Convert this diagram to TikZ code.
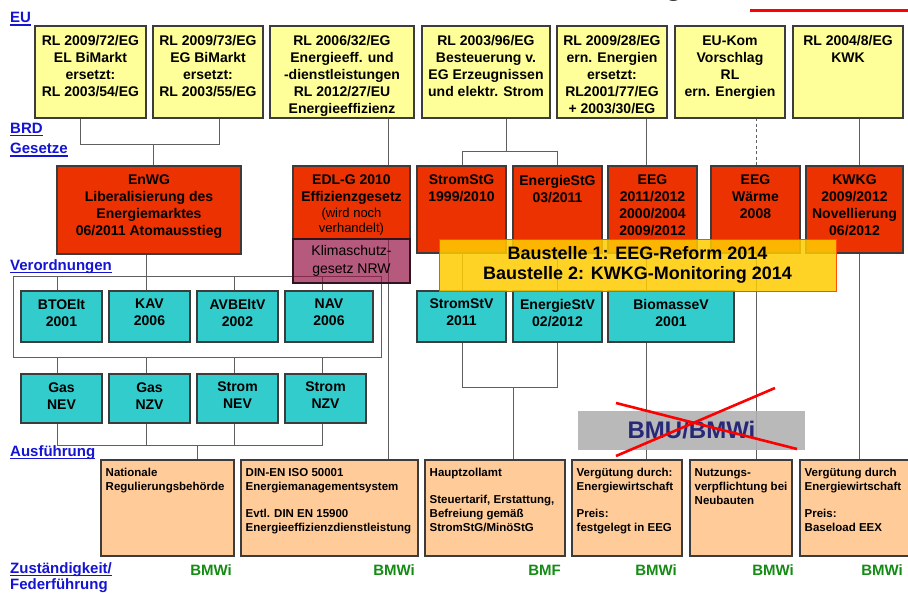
\documentclass[tikz,border=0pt]{standalone}
\usepackage{fontspec}
\setmainfont{Liberation Sans}
\usetikzlibrary{calc}
\pgfdeclarelayer{bglayer}
\pgfdeclarelayer{connlayer}
\pgfsetlayers{bglayer,connlayer,main}
\definecolor{euY}{HTML}{FFFF99}
\definecolor{rd}{RGB}{236,50,0}
\definecolor{tl}{HTML}{33CCCC}
\definecolor{pc}{HTML}{FFCC99}
\definecolor{bdr}{RGB}{60,60,60}
\definecolor{cn}{RGB}{95,95,95}
\definecolor{lb}{RGB}{20,20,210}
\definecolor{gn}{RGB}{20,140,20}
\definecolor{nv}{RGB}{40,40,120}
\definecolor{gy}{RGB}{176,176,176}
\definecolor{km}{RGB}{150,20,70}
\definecolor{kbdr}{RGB}{45,20,30}
\definecolor{bs}{RGB}{255,204,0}
\definecolor{bsb}{RGB}{255,80,0}
\tikzset{
  bx/.style={draw=bdr, line width=1.1pt, inner sep=0pt, outer sep=0pt},
  eubox/.style={bx, fill=euY},
  rdbox/.style={bx, fill=rd},
  tlbox/.style={bx, fill=tl},
  pcbox/.style={bx, fill=pc},
  btxt/.style={font=\bfseries\fontsize{14}{17}\selectfont, align=center, inner sep=0pt, anchor=north},
  atxt/.style={font=\bfseries\fontsize{11.5}{14}\selectfont, align=left, inner sep=0pt, anchor=north west},
  conn/.style={draw=cn, line width=1pt},
  lbl/.style={font=\bfseries\fontsize{15}{18}\selectfont, text=lb, inner sep=0pt, anchor=base west},
  grn/.style={font=\bfseries\fontsize{15}{18}\selectfont, text=gn, inner sep=0pt, anchor=base east},
}
\newcommand\mkbox[8]{%
  \node[#2, minimum width={#5-#3}, minimum height={#6-#4}, anchor=north west] (#1) at (#3,#4) {};
  \node[btxt] (#1-t) at ([yshift=-#7pt]#1.north) {#8};}
\newcommand\mkabox[4]{%
  \node[pcbox, minimum width={#3-#2}, minimum height=96, anchor=north west] (#1) at (#2,460) {};
  \node[atxt] (#1-t) at ([xshift=4.5pt,yshift=-8pt]#1.north west) {#4};}
\newcommand\ulabel[3]{%
  \node[lbl] (#1) at (#2) {#3};
  \draw[draw=lb, line width=1.3pt] ([yshift=-2.5pt]#1.base west) -- ([yshift=-2.5pt]#1.base east);}
\begin{document}
\begin{tikzpicture}[x=1pt,y=-1pt]
\useasboundingbox (0,0) rectangle (908,592);
\clip (0,0) rectangle (908,592);
\begin{pgfonlayer}{bglayer}
\fill[white] (0,0) rectangle (908,592);
\end{pgfonlayer}

% title fragment and red line
\node[font=\bfseries\fontsize{32}{36}\selectfont, inner sep=0pt, anchor=base west] (ttl) at (664,-6) {g};
\coordinate (r1) at (750,10);
\coordinate (r2) at (910,10);
\draw[red, line width=3pt] (r1) -- (r2);

% side labels
\ulabel{lEU}{10,22.5}{EU}
\ulabel{lBRD}{10,133}{BRD}
\ulabel{lGes}{10,153.5}{Gesetze}
\ulabel{lVer}{10,270}{Verordnungen}
\ulabel{lAus}{10,456}{Ausführung}
\ulabel{lZus}{10,573}{Zuständigkeit/}
\node[lbl] (lFed) at (10,589.5) {Federführung};

% EU row
\mkbox{eu1}{eubox}{35}{26}{146}{118}{9.5}{RL 2009/72/EG\\EL BiMarkt\\ersetzt:\\RL 2003/54/EG}
\mkbox{eu2}{eubox}{153}{26}{263}{118}{9.5}{RL 2009/73/EG\\EG BiMarkt\\ersetzt:\\RL 2003/55/EG}
\mkbox{eu3}{eubox}{270}{26}{414}{118}{9.5}{RL 2006/32/EG\\Energieeff. und\\-dienstleistungen\\RL 2012/27/EU\\Energieeffizienz}
\mkbox{eu4}{eubox}{422}{26}{550}{118}{9.5}{RL 2003/96/EG\\Besteuerung v.\\EG Erzeugnissen\\und elektr. Strom}
\mkbox{eu5}{eubox}{557}{26}{667}{118}{9.5}{RL 2009/28/EG\\ern. Energien\\ersetzt:\\RL2001/77/EG\\+ 2003/30/EG}
\mkbox{eu6}{eubox}{675}{26}{785}{118}{9.5}{EU-Kom\\Vorschlag\\RL\\ern. Energien}
\mkbox{eu7}{eubox}{793}{26}{903}{118}{9.5}{RL 2004/8/EG\\KWK}

% BRD row
\mkbox{enwg}{rdbox}{57}{166}{241}{254}{9}{EnWG\\Liberalisierung des\\Energiemarktes\\06/2011 Atomausstieg}
\mkbox{edlg}{rdbox}{293}{166}{410}{239}{9}{EDL-G 2010\\Effizienzgesetz}
\node[font=\fontsize{13}{15}\selectfont, align=center, inner sep=0pt, anchor=north] (edlg-s) at ([yshift=-41.5pt]edlg.north) {(wird noch\\verhandelt)};
\mkbox{stromstg}{rdbox}{417}{166}{506}{253}{9}{StromStG\\1999/2010}
\mkbox{energiestg}{rdbox}{513}{166}{602}{253}{9}{EnergieStG\\03/2011}
\mkbox{eeg}{rdbox}{608}{166}{697}{253}{9}{EEG\\2011/2012\\2000/2004\\2009/2012}
\mkbox{eegw}{rdbox}{711}{166}{800}{253}{9}{EEG\\Wärme\\2008}
\mkbox{kwkg}{rdbox}{806}{166}{903}{253}{9}{KWKG\\2009/2012\\Novellierung\\06/2012}

% Verordnungen
\mkbox{btoelt}{tlbox}{21}{291}{102}{342}{8}{BTOElt\\2001}
\mkbox{kav}{tlbox}{109}{291}{190}{342}{8}{KAV\\2006}
\mkbox{avbeltv}{tlbox}{197}{291}{278}{342}{8}{AVBEltV\\2002}
\mkbox{nav}{tlbox}{285}{291}{373}{342}{8}{NAV\\2006}
\mkbox{gasnev}{tlbox}{21}{374}{102}{423}{9}{Gas\\NEV}
\mkbox{gasnzv}{tlbox}{109}{374}{190}{423}{9}{Gas\\NZV}
\mkbox{stromnev}{tlbox}{197}{374}{278}{423}{8}{Strom\\NEV}
\mkbox{stromnzv}{tlbox}{285}{374}{366}{423}{8}{Strom\\NZV}
\mkbox{stromstv}{tlbox}{417}{291}{506}{342}{8}{StromStV\\2011}
\mkbox{energiestv}{tlbox}{513}{291}{602}{342}{8}{EnergieStV\\02/2012}
\mkbox{biomassev}{tlbox}{608}{291}{734}{342}{8}{BiomasseV\\2001}

% Ausfuehrung
\mkabox{a1}{101}{234}{Nationale\\Regulierungsbehörde}
\mkabox{a2}{241}{418}{DIN-EN ISO 50001\\Energiemanagementsystem\\[13pt]Evtl. DIN EN 15900\\Energieeffizienzdienstleistung}
\mkabox{a3}{425}{565}{Hauptzollamt\\[13pt]Steuertarif, Erstattung,\\Befreiung gemäß\\StromStG/MinöStG}
\mkabox{a4}{572}{682}{Vergütung durch:\\Energiewirtschaft\\[13pt]Preis:\\festgelegt in EEG}
\mkabox{a5}{690}{792}{Nutzungs-\\verpflichtung bei\\Neubauten}
\mkabox{a6}{800}{915}{Vergütung durch\\Energiewirtschaft\\[13pt]Preis:\\Baseload EEX}

% Zustaendigkeit
\node[grn] (z1) at ([xshift=-2pt,yshift=-19pt]a1.south east) {BMWi};
\node[grn] (z2) at ([xshift=-3pt,yshift=-19pt]a2.south east) {BMWi};
\node[grn] (z3) at ([xshift=-4pt,yshift=-19pt]a3.south east) {BMF};
\node[grn] (z4) at ([xshift=-5pt,yshift=-19pt]a4.south east) {BMWi};
\node[grn] (z5) at ([xshift=2pt,yshift=-19pt]a5.south east) {BMWi};
\node[grn] (z6) at ([xshift=-12pt,yshift=-19pt]a6.south east) {BMWi};

% connectors
\begin{pgfonlayer}{connlayer}
\coordinate (k80) at (80,144);
\coordinate (k219) at (219,144);
\coordinate (j1) at (153,144);
\draw[conn] (eu1.south -| k80) -- (k80) -- (k219) -- (eu2.south -| k219);
\draw[conn] (j1) -- (enwg.north -| j1);
\coordinate (k388) at (388,0);
\draw[conn] (eu3.south -| k388) -- (a2.north -| k388);
\coordinate (j4) at (506,151);
\coordinate (k462) at (462,151);
\coordinate (k557) at (557,151);
\draw[conn] (eu4.south -| j4) -- (j4);
\draw[conn] (stromstg.north -| k462) -- (k462) -- (k557) -- (energiestg.north -| k557);
\draw[conn] (stromstg.south -| k462) -- (stromstv.north -| k462);
\draw[conn] (energiestg.south -| k557) -- (energiestv.north -| k557);
\coordinate (m462) at (462,387);
\coordinate (m557) at (557,387);
\coordinate (m513) at (513,387);
\draw[conn] (stromstv.south -| m462) -- (m462) -- (m557) -- (energiestv.south -| m557);
\draw[conn] (m513) -- (a3.north -| m513);
\coordinate (k646) at (646,0);
\draw[conn] (eu5.south -| k646) -- (a4.north -| k646);
\coordinate (k756) at (756,0);
\draw[conn, dash pattern=on 3pt off 2.5pt] (eu6.south -| k756) -- (eegw.north -| k756);
\draw[conn] (eegw.south -| k756) -- (a5.north -| k756);
\coordinate (k859) at (859,0);
\draw[conn] (eu7.south -| k859) -- (a6.north -| k859);
\coordinate (g1) at (13,276);
\coordinate (g2) at (381,357);
\draw[conn] (g1) rectangle (g2);
\coordinate (c1) at (57,0);
\coordinate (c2) at (146,0);
\coordinate (c3) at (234,0);
\coordinate (c4) at (322,0);
\draw[conn] (enwg.south -| c2) -- (kav.north -| c2);
\draw[conn] (g1 -| c1) -- (btoelt.north -| c1);
\draw[conn] (g1 -| c3) -- (avbeltv.north -| c3);
\draw[conn] (g1 -| c4) -- (nav.north -| c4);
\draw[conn] (g2 -| c1) -- (gasnev.north -| c1);
\draw[conn] (g2 -| c2) -- (gasnzv.north -| c2);
\draw[conn] (g2 -| c3) -- (stromnev.north -| c3);
\draw[conn] (g2 -| c4) -- (stromnzv.north -| c4);
\coordinate (h1) at (57,445);
\coordinate (h4) at (322,445);
\draw[conn] (gasnev.south -| h1) -- (h1) -- (h4) -- (stromnzv.south -| h4);
\draw[conn] (gasnzv.south -| c2) -- (h1 -| c2);
\draw[conn] (stromnev.south -| c3) -- (h1 -| c3);
\coordinate (h197) at (197,445);
\draw[conn] (h197) -- (a1.north -| h197);
\end{pgfonlayer}

% overlays
\node[draw=kbdr, line width=1.1pt, fill=km, fill opacity=0.7, inner sep=0pt, outer sep=0pt,
      minimum width=117, minimum height=44, anchor=north west] (klima) at (293,239) {};
\node[font=\fontsize{14}{18}\selectfont, align=center, inner sep=0pt] (klima-t) at (klima.center) {Klimaschutz-\\gesetz NRW};

\node[draw=bsb, line width=1pt, fill=bs, fill opacity=0.85, inner sep=0pt, outer sep=0pt,
      minimum width=397, minimum height=52, anchor=north west] (baust) at (439,239) {};
\node[font=\bfseries\fontsize{18}{20}\selectfont, align=center, inner sep=0pt] (baust-t) at (baust.center) {Baustelle 1: EEG-Reform 2014\\Baustelle 2: KWKG-Monitoring 2014};

\node[fill=gy, fill opacity=0.88, inner sep=0pt, outer sep=0pt,
      minimum width=227, minimum height=39, anchor=north west] (bmu) at (578,411) {};
\node[font=\bfseries\fontsize{24}{28}\selectfont, text=nv, inner sep=0pt] (bmu-t) at (bmu.center) {BMU/BMWi};
\coordinate (x1) at (616,403);
\coordinate (x2) at (797,449);
\coordinate (x3) at (616,456);
\coordinate (x4) at (775,388);
\draw[red, line width=2.6pt] (x1) -- (x2);
\draw[red, line width=2.6pt] (x3) -- (x4);
\end{tikzpicture}
\end{document}
